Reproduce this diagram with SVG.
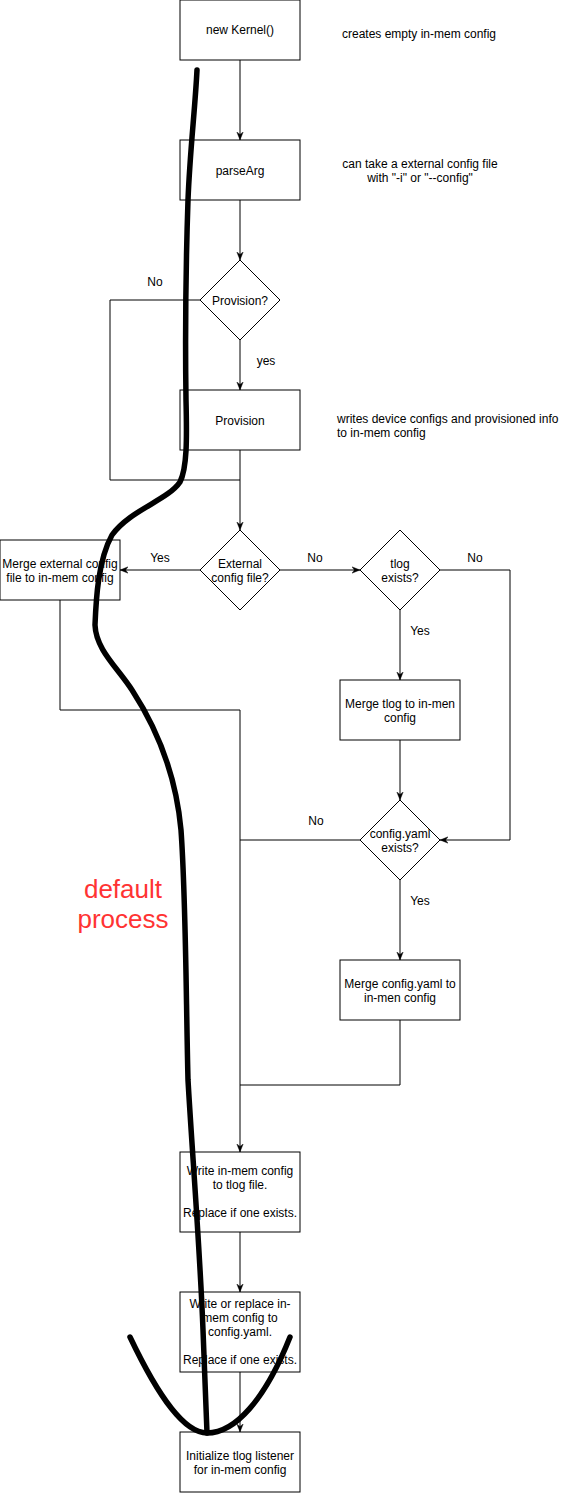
<svg xmlns="http://www.w3.org/2000/svg" width="563" height="1493" viewBox="0 0 563 1493">
<style>
.n{fill:#fff;stroke:#000;stroke-width:1}
.t{font-family:"Liberation Sans",Arial,sans-serif;font-size:12px;fill:#000;text-anchor:middle}
.a{font-family:"Liberation Sans",Arial,sans-serif;font-size:12px;fill:#000}
.e{fill:none;stroke:#000;stroke-width:1}
.ea{fill:none;stroke:#000;stroke-width:1;marker-end:url(#arr)}
.hand{fill:none;stroke:#000;stroke-width:5.5;stroke-linecap:round;stroke-linejoin:round}
.red{font-family:"Liberation Sans",Arial,sans-serif;font-size:26px;fill:#FF3333;text-anchor:middle}
</style>
<defs>
<marker id="arr" viewBox="0 0 10 10" refX="10" refY="5" markerWidth="8" markerHeight="8" orient="auto" markerUnits="userSpaceOnUse">
<path d="M0,1 L10,5 L0,9 L3,5 z" fill="#000" stroke="#000" stroke-width="0.5"/>
</marker>
</defs>
<rect width="563" height="1493" fill="#fff"/>
<g id="connectors">
<path class="ea" d="M240,60 V140"/>
<path class="ea" d="M240,200 V260"/>
<path class="ea" d="M240,340 V390"/>
<path class="e" d="M200,300 H110 V480 H240"/>
<path class="ea" d="M240,450 V530"/>
<path class="ea" d="M200,570 H120"/>
<path class="ea" d="M280,570 H360"/>
<path class="ea" d="M440,570 H510 V840 H440"/>
<path class="ea" d="M400,610 V680"/>
<path class="ea" d="M400,740 V800"/>
<path class="ea" d="M360,840 H240 V1152"/>
<path class="e" d="M60,600 V710 H240 V840"/>
<path class="ea" d="M400,880 V960"/>
<path class="e" d="M400,1020 V1085 H240"/>
<path class="ea" d="M240,1232 V1292"/>
<path class="ea" d="M240,1372 V1432"/>
<text class="t" x="155" y="286">No</text>
<text class="t" x="266" y="365">yes</text>
<text class="t" x="160" y="562">Yes</text>
<text class="t" x="315" y="562">No</text>
<text class="t" x="475" y="562">No</text>
<text class="t" x="420" y="635">Yes</text>
<text class="t" x="316" y="825">No</text>
<text class="t" x="420" y="905">Yes</text>
</g>
<g id="newKernel">
<rect class="n" x="180" y="0" width="120" height="60"/>
<text class="t" x="240" y="34">new Kernel()</text>
</g>
<g id="note1">
<text class="t" x="419" y="38">creates empty in-mem config</text>
</g>
<g id="parseArg">
<rect class="n" x="180" y="140" width="120" height="60"/>
<text class="t" x="240" y="175">parseArg</text>
</g>
<g id="note2">
<text class="t" x="420" y="168">can take a external config file</text>
<text class="t" x="420" y="182">with "-i" or "--config"</text>
</g>
<g id="provisionQ">
<path class="n" d="M240,260 L280,300 L240,340 L200,300 Z"/>
<text class="t" x="240" y="305">Provision?</text>
</g>
<g id="provision">
<rect class="n" x="180" y="390" width="120" height="60"/>
<text class="t" x="240" y="425">Provision</text>
</g>
<g id="note3">
<text class="a" x="337" y="423">writes device configs and provisioned info</text>
<text class="a" x="337" y="437">to in-mem config</text>
</g>
<g id="externalQ">
<path class="n" d="M240,530 L280,570 L240,610 L200,570 Z"/>
<text class="t" x="240" y="568">External</text>
<text class="t" x="240" y="582">config file?</text>
</g>
<g id="mergeExternal">
<rect class="n" x="0" y="540" width="120" height="60"/>
<text class="t" x="60" y="568">Merge external config</text>
<text class="t" x="60" y="582">file to in-mem config</text>
</g>
<g id="tlogQ">
<path class="n" d="M400,530 L440,570 L400,610 L360,570 Z"/>
<text class="t" x="400" y="568">tlog</text>
<text class="t" x="400" y="582">exists?</text>
</g>
<g id="mergeTlog">
<rect class="n" x="340" y="680" width="120" height="60"/>
<text class="t" x="400" y="708">Merge tlog to in-men</text>
<text class="t" x="400" y="722">config</text>
</g>
<g id="yamlQ">
<path class="n" d="M400,800 L440,840 L400,880 L360,840 Z"/>
<text class="t" x="400" y="838">config.yaml</text>
<text class="t" x="400" y="852">exists?</text>
</g>
<g id="mergeYaml">
<rect class="n" x="340" y="960" width="120" height="60"/>
<text class="t" x="400" y="988">Merge config.yaml to</text>
<text class="t" x="400" y="1002">in-men config</text>
</g>
<g id="writeTlog">
<rect class="n" x="180" y="1152" width="120" height="80"/>
<text class="t" x="240" y="1175">Write in-mem config</text>
<text class="t" x="240" y="1189">to tlog file.</text>
<text class="t" x="240" y="1217">Replace if one exists.</text>
</g>
<g id="writeYaml">
<rect class="n" x="180" y="1292" width="120" height="80"/>
<text class="t" x="240" y="1308">Write or replace in-</text>
<text class="t" x="240" y="1322">mem config to</text>
<text class="t" x="240" y="1336">config.yaml.</text>
<text class="t" x="240" y="1364">Replace if one exists.</text>
</g>
<g id="initListener">
<rect class="n" x="180" y="1432" width="120" height="60"/>
<text class="t" x="240" y="1460">Initialize tlog listener</text>
<text class="t" x="240" y="1474">for in-mem config</text>
</g>
<g id="defaultProcess">
<text class="red" x="123" y="898">default</text>
<text class="red" x="123" y="928">process</text>
<path class="hand" d="M197,70 C195,110 190,150 188,200 C186,260 185,330 186,400 C187,440 187,468 180,482 C168,500 130,510 112,535 C98,560 96,600 95,625 C96,650 118,668 132,690 C158,730 176,775 181,830 C186,900 186,1000 188,1080 C192,1150 200,1250 203,1330 L207,1433"/>
<path class="hand" d="M130,1337 C160,1400 185,1433 207,1433 C235,1433 265,1400 290,1337"/>
</g>
</svg>
